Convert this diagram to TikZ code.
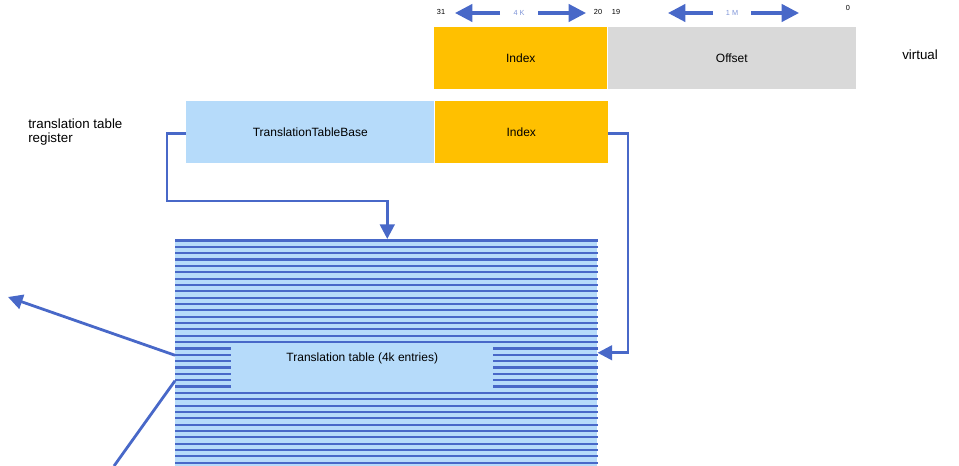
\documentclass[tikz,border=0pt]{standalone}
\usepackage{fontspec}
\setmainfont{Liberation Sans}
\usetikzlibrary{arrows.meta}
\usetikzlibrary{positioning}
\usetikzlibrary{calc}

\definecolor{lineblue}{RGB}{72,104,200}
\definecolor{paleblue}{RGB}{182,219,250}
\definecolor{idxorange}{RGB}{255,192,0}
\definecolor{offgray}{RGB}{217,217,217}

\tikzset{
  field/.style={anchor=north west, inner sep=0pt, minimum height=62*0.75pt,
    font=\fontsize{9}{10}\selectfont},
  link/.style={lineblue, line width=2.1pt, -{Triangle[length=11pt,width=11pt]}},
  span/.style={lineblue, line width=2.4pt, -{Triangle[length=13pt,width=13pt]}},
  bitno/.style={inner sep=1pt, font=\fontsize{5.5}{6}\selectfont},
  stripe/.style={lineblue, line width=1.6pt},
}

\begin{document}
\begin{tikzpicture}[x=0.75pt,y=-0.75pt]
\useasboundingbox (0,0) rectangle (959,466);

% Virtual address
\node[field, fill=idxorange, minimum width=173*0.75pt] (vindex) at (434,27) {Index};
\node[field, fill=offgray, minimum width=248*0.75pt, right=0pt of vindex] (offset) {Offset};
\node[anchor=west, inner sep=0pt, font=\fontsize{10}{12}\selectfont] (virt) at (902,55) {virtual};

% Bit numbers and field widths
\node[bitno] (b31) at (441,12) {31};
\node[bitno] (b20) at (598,12) {20};
\node[bitno] (b19) at (616,12) {19};
\node[bitno] (b0) at (848,8) {0};
\node[bitno, text=lineblue!70] (k4) at (519,13) {4 K};
\node[bitno, text=lineblue!70] (m1) at (732,13) {1 M};
\foreach \w in {k4, m1} {
  \draw[span] ($(\w)+(-19,0)$) -- ($(\w)+(-64,0)$);
  \draw[span] ($(\w)+(19,0)$) -- ($(\w)+(67,0)$);
}

% Translation table register
\node[field, fill=paleblue, minimum width=248*0.75pt] (ttb) at (186,101) {TranslationTableBase};
\node[field, fill=idxorange, minimum width=173*0.75pt, right=0pt of ttb] (rindex) {Index};
\node[anchor=north west, align=left, inner sep=0pt, font=\fontsize{10}{10.5}\selectfont] (reg) at (28,119) {translation table\\register};

% Translation table
\node[anchor=north west, inner sep=0pt, fill=paleblue, minimum width=422*0.75pt,
  minimum height=227*0.75pt] (table) at (175,239) {};
\foreach \i in {0,...,35}
  \draw[stripe] ($(table.north west)+(0,1.5+6.35*\i)$) -- ($(table.north east)+(0,1.5+6.35*\i)$);
\node[field, fill=paleblue, minimum width=262*0.75pt, minimum height=49*0.75pt] (entries) at (231,343) {};
\node[font=\fontsize{9}{10}\selectfont] (entrytext) at ($(entries.north)+(0,15)$) {Translation table (4k entries)};

% Connectors
\draw[link] ($(ttb.west)+(0,1)$) -- ++(-19,0) |- ($(table.north)+(1,-38)$) -- ($(table.north)+(1,0)$);
\draw[link] ($(rindex.east)+(0,1)$) -- ++(20,0) |- (table.east);

\coordinate (out1) at (8,297);
\coordinate (out2) at (114,466);
\draw[link] ($(table.west)+(0,2.5)$) -- (out1);
\draw[lineblue, line width=2.1pt] ($(table.west)+(0,28)$) -- (out2);

\end{tikzpicture}
\end{document}
